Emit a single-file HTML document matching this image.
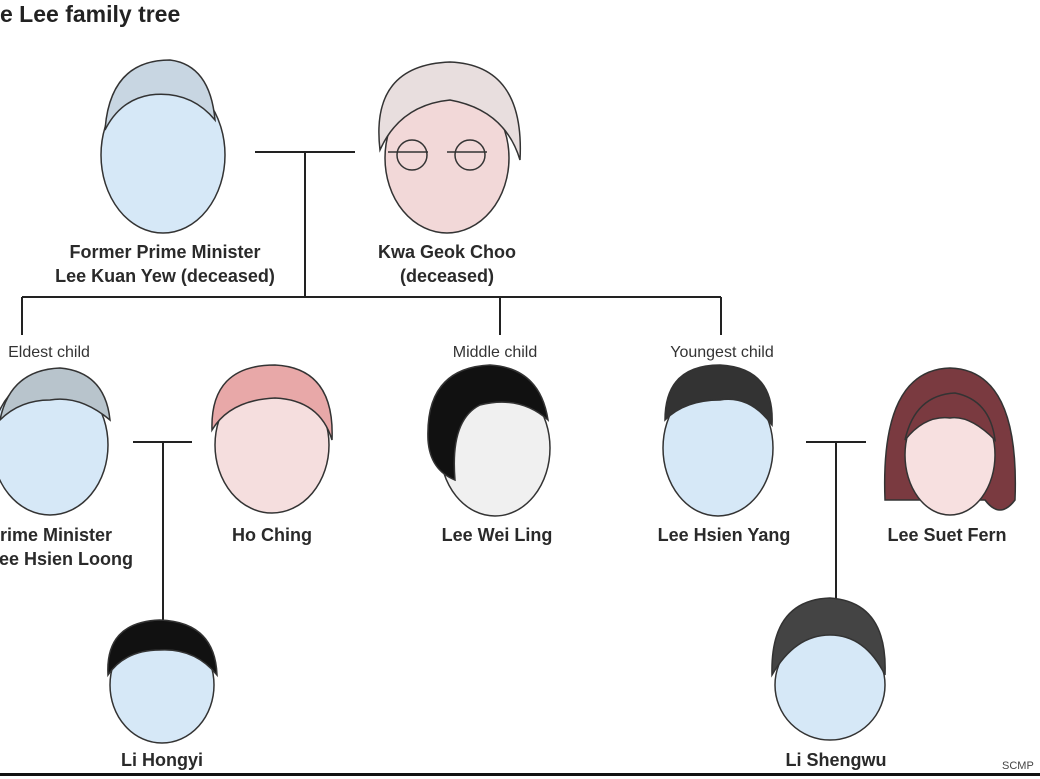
<!DOCTYPE html>
<html><head><meta charset="utf-8"><style>
body{margin:0;width:1040px;height:779px;background:#fff;overflow:hidden;position:relative;font-family:"Liberation Sans",sans-serif;color:#2a2a2a}
.t{position:absolute;font-weight:bold;font-size:18px;text-align:center;line-height:24px;white-space:nowrap;transform:translateX(-50%)}
.s{position:absolute;font-size:16px;white-space:nowrap;transform:translateX(-50%);color:#333}
svg{position:absolute;left:0;top:0}
</style></head><body>
<svg width="1040" height="779">
<g stroke="#222" stroke-width="2" fill="none">
<path d="M255 152H355M305 152V297M22 297H721M22 297V335M500 297V335M721 297V335"/>
<path d="M133 442H192M163 442V705M806 442H866M836 442V600"/>
</g>
<rect x="0" y="773" width="1040" height="3" fill="#111"/>
<g stroke="#333" stroke-width="1.5">
<ellipse cx="163" cy="155" rx="62" ry="78" fill="#d6e8f7"/>
<path d="M105 130 Q110 60 170 60 Q210 65 215 120 Q190 90 150 95 Q120 100 105 130Z" fill="#c8d6e2"/>
<ellipse cx="447" cy="158" rx="62" ry="75" fill="#f2d8d8"/>
<path d="M380 150 Q370 65 450 62 Q525 65 520 160 Q505 110 450 100 Q400 105 380 150Z" fill="#e8dede"/>
<path d="M388 152h40M447 152h40" stroke="#333" fill="none"/>
<circle cx="412" cy="155" r="15" fill="none"/><circle cx="470" cy="155" r="15" fill="none"/>
<ellipse cx="50" cy="445" rx="58" ry="70" fill="#d6e8f7"/>
<path d="M0 420 Q10 370 60 368 Q105 372 110 420 Q80 395 50 400 Q20 400 0 420Z" fill="#b8c4cc"/>
<ellipse cx="272" cy="445" rx="57" ry="68" fill="#f5dede"/>
<path d="M212 430 Q210 365 275 365 Q335 368 332 440 Q320 400 275 398 Q230 400 212 430Z" fill="#e8a8a8"/>
<ellipse cx="495" cy="448" rx="55" ry="68" fill="#f0f0f0"/>
<path d="M428 440 Q425 368 490 365 Q540 368 548 420 Q520 395 480 405 Q450 420 455 480 Q430 470 428 440Z" fill="#111"/>
<ellipse cx="718" cy="448" rx="55" ry="68" fill="#d6e8f7"/>
<path d="M665 420 Q665 365 720 365 Q775 368 772 425 Q750 395 720 400 Q685 400 665 420Z" fill="#333"/>
<path d="M885 500 Q880 370 950 368 Q1020 370 1015 500 Q1000 520 985 500Z" fill="#7a3a40"/>
<ellipse cx="950" cy="455" rx="45" ry="60" fill="#f7e0e0"/>
<path d="M905 440 Q915 395 955 393 Q990 400 995 440 Q970 415 950 418 Q925 415 905 440Z" fill="#7a3a40"/>
<ellipse cx="162" cy="685" rx="52" ry="58" fill="#d6e8f7"/>
<path d="M108 675 Q105 622 160 620 Q215 622 217 675 Q195 648 160 650 Q125 650 108 675Z" fill="#111"/>
<ellipse cx="830" cy="685" rx="55" ry="55" fill="#d6e8f7"/>
<path d="M772 675 Q770 600 830 598 Q888 602 885 675 Q865 635 830 635 Q795 635 772 675Z" fill="#444"/>
</g>
</svg>
<div style="position:absolute;left:0;top:1px;font-weight:bold;font-size:23px;color:#222">e Lee family tree</div>
<div class="t" style="left:165px;top:240px">Former Prime Minister<br>Lee Kuan Yew (deceased)</div>
<div class="t" style="left:447px;top:240px">Kwa Geok Choo<br>(deceased)</div>
<div class="s" style="left:49px;top:344px">Eldest child</div>
<div class="s" style="left:495px;top:344px">Middle child</div>
<div class="s" style="left:722px;top:344px">Youngest child</div>
<div class="t" style="left:0;top:523px;transform:none;text-align:left;margin-left:-12px">Prime Minister<br>Lee Hsien Loong</div>
<div class="t" style="left:272px;top:523px">Ho Ching</div>
<div class="t" style="left:497px;top:523px">Lee Wei Ling</div>
<div class="t" style="left:724px;top:523px">Lee Hsien Yang</div>
<div class="t" style="left:947px;top:523px">Lee Suet Fern</div>
<div class="t" style="left:162px;top:748px">Li Hongyi</div>
<div class="t" style="left:836px;top:748px">Li Shengwu</div>
<div style="position:absolute;left:1002px;top:760px;font-size:11px;color:#444">SCMP</div>
</body></html>
